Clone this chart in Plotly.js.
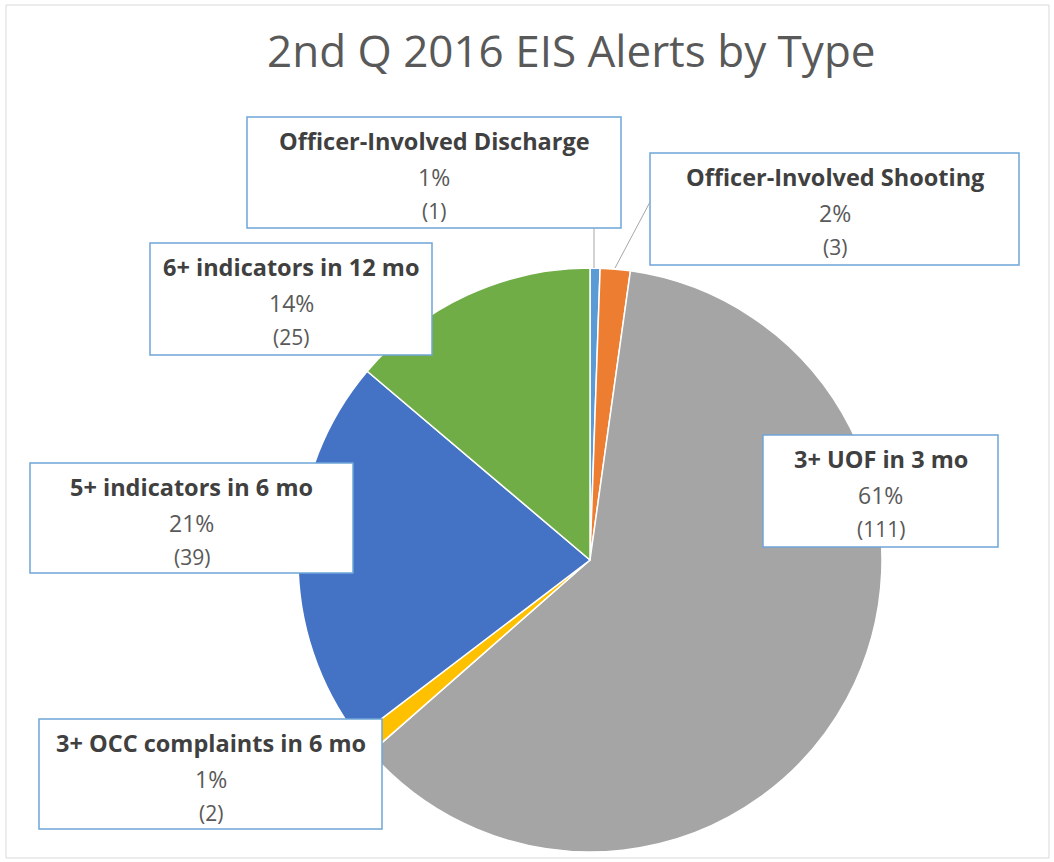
<!DOCTYPE html>
<html><head><meta charset="utf-8">
<script src="https://cdn.plot.ly/plotly-3.0.1.min.js"></script>
<style>html,body{margin:0;padding:0;background:#fff}#chart{width:1054px;height:862px}</style>
</head><body><div id="chart"></div>
<script>
// Data
const categories = ["Officer-Involved Discharge","Officer-Involved Shooting","3+ UOF in 3 mo","3+ OCC complaints in 6 mo","5+ indicators in 6 mo","6+ indicators in 12 mo"];
const counts = [1, 3, 111, 2, 39, 25];
const pctLabels = ["1%","2%","61%","1%","21%","14%"];
const colors = ["#5B9BD5","#ED7D31","#A5A5A5","#FFC000","#4472C4","#70AD47"];

const W = 1054, H = 862;
const px = x => x / W, py = y => 1 - y / H;

// label box layout (pixels: left, top, right, bottom)
const boxes = [[247,117,621,228],[650,153,1019,265],[763,435,998,547],[39,719,382,829],[30,463,353,573],[150,243,432,355]];
const leaders = [[[594,228],[594,268]], [[650,202],[615,268]]];

const shapes = [], annotations = [];
shapes.push({type:'rect', xref:'paper', yref:'paper', x0:px(6), x1:px(1049), y0:py(5), y1:py(858), line:{color:'#d9d9d9', width:1}});
boxes.forEach((b,i) => {
  shapes.push({type:'rect', xref:'paper', yref:'paper', x0:px(b[0]), x1:px(b[2]), y0:py(b[1]), y1:py(b[3]),
    line:{color:'#6FA5D8', width:1.5}, fillcolor:'#ffffff', layer:'above'});
  const cx = px((b[0]+b[2])/2);
  annotations.push({xref:'paper', yref:'paper', x:cx, y:py(b[1]+24), text:'<b>'+categories[i]+'</b>', showarrow:false,
    xanchor:'center', yanchor:'middle', font:{family:'Open Sans', size:23.5, color:'#404040'}});
  annotations.push({xref:'paper', yref:'paper', x:cx, y:py(b[1]+60), text:pctLabels[i], showarrow:false,
    xanchor:'center', yanchor:'middle', font:{family:'Open Sans', size:23, color:'#595959'}});
  annotations.push({xref:'paper', yref:'paper', x:cx, y:py(b[1]+94), text:'('+counts[i]+')', showarrow:false,
    xanchor:'center', yanchor:'middle', font:{family:'Open Sans', size:21, color:'#595959'}});
});
leaders.forEach(l => shapes.push({type:'line', xref:'paper', yref:'paper', x0:px(l[0][0]), y0:py(l[0][1]), x1:px(l[1][0]), y1:py(l[1][1]), line:{color:'#A6A6A6', width:1}}));

annotations.push({xref:'paper', yref:'paper', x:px(571), y:py(50), text:'2nd Q 2016 EIS Alerts by Type', showarrow:false,
  xanchor:'center', yanchor:'middle', font:{family:'Open Sans', size:44, color:'#595959'}});

const cxp = 590, cyp = 560, r = 292;
const trace = {
  type:'pie', labels:categories, values:counts, sort:false, direction:'clockwise', rotation:0,
  marker:{colors:colors, line:{color:'#ffffff', width:1.5}},
  textinfo:'none', hoverinfo:'label+value+percent',
  domain:{x:[px(cxp-r), px(cxp+r)], y:[py(cyp+r), py(cyp-r)]}
};
Plotly.newPlot('chart', [trace], {
  width:W, height:H, margin:{l:0,r:0,t:0,b:0}, showlegend:false,
  paper_bgcolor:'#ffffff', shapes:shapes, annotations:annotations
}, {displayModeBar:false});
</script></body></html>
